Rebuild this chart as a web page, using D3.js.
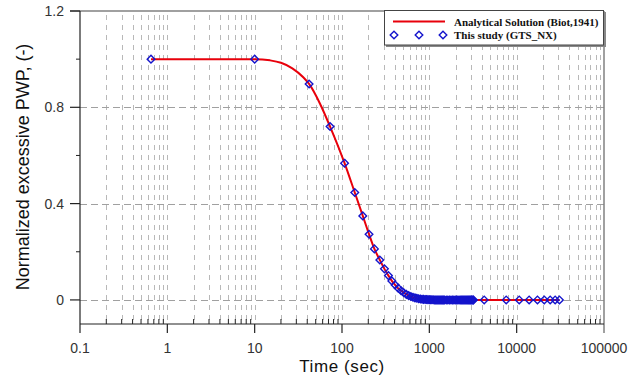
<!DOCTYPE html>
<html>
<head>
<meta charset="utf-8">
<script src="https://cdn.jsdelivr.net/npm/d3@7"></script>
<style>
body { margin: 0; background: #fff; }
svg { display: block; }
</style>
</head>
<body>
<div id="chart"></div>
<script>
// analytical solution (Biot, 1941)
var analyticTime = [0.65, 10, 15, 20, 27, 36, 42, 56, 73, 107, 140, 173, 204, 235, 271, 306, 340, 372, 406, 440, 510, 580, 650, 750, 900, 1100, 1500, 31000];
var analyticPwp = [1, 1, 0.995, 0.985, 0.962, 0.925, 0.897, 0.815, 0.72, 0.568, 0.446, 0.349, 0.273, 0.212, 0.166, 0.129, 0.101, 0.079, 0.062, 0.048, 0.03, 0.018, 0.011, 0.005, 0.002, 0.0005, 0, 0];

// this study (GTS_NX), blue diamonds
var studyTime = [0.65, 10, 42, 73, 107, 140, 173, 204, 235, 271, 306, 340, 372, 406, 440, 475, 510, 545, 580, 615, 650, 685, 720, 755, 790, 825, 860, 895, 930, 965, 1000, 1035, 1070, 1105, 1140, 1175, 1210, 1245, 1280, 1315, 1350, 1385, 1420, 1455, 1490, 1560, 1630, 1700, 1770, 1840, 1910, 1980, 2050, 2120, 2190, 2260, 2330, 2400, 2470, 2540, 2610, 2680, 2750, 2820, 2890, 2960, 3030, 3100, 3170, 3200, 4250, 7590, 10700, 13900, 17300, 20700, 24200, 27600, 30900];
var studyPwp = [1, 1, 0.897, 0.72, 0.568, 0.446, 0.349, 0.273, 0.212, 0.166, 0.129, 0.101, 0.079, 0.062, 0.049, 0.038, 0.03, 0.023, 0.018, 0.014, 0.011, 0.0085, 0.0066, 0.0052, 0.004, 0.0031, 0.0024, 0.0019, 0.0015, 0.0011, 0.0009, 0.0007, 0.0005, 0.0004, 0, 0, 0, 0, 0, 0, 0, 0, 0, 0, 0, 0, 0, 0, 0, 0, 0, 0, 0, 0, 0, 0, 0, 0, 0, 0, 0, 0, 0, 0, 0, 0, 0, 0, 0, 0, 0, 0, 0, 0, 0, 0, 0, 0, 0];

var xTicks = [0.1, 1, 10, 100, 1000, 10000, 100000];
var xTickLabels = ["0.1", "1", "10", "100", "1000", "10000", "100000"];
var yTicks = [0, 0.4, 0.8, 1.2];
var yMinorTicks = [0.2, 0.6, 1.0];

var width = 640, height = 378;
var plotLeft = 80, plotRight = 604, plotTop = 11, plotBottom = 324;

var svg = d3.select("#chart").append("svg").attr("width", width).attr("height", height);

var x = d3.scaleLog().domain([0.1, 100000]).range([plotLeft, plotRight]);
var y = d3.scaleLinear().domain([-0.1, 1.2]).range([plotBottom, plotTop]);

// positions 1..9 per decade for the grid
var gridX = [];
xTicks.slice(0, -1).forEach(function(d) {
	for (var k = 1; k <= 9; k++) gridX.push(d * k);
});
var minorX = gridX.filter(function(d, i) { return i % 9 != 0; });

// vertical grid
svg.append("g").selectAll("line").data(gridX.slice(1)).enter().append("line")
	.attr("x1", function(d) { return Math.round(x(d)) + 0.5; })
	.attr("x2", function(d) { return Math.round(x(d)) + 0.5; })
	.attr("y1", plotTop + 4).attr("y2", plotBottom)
	.attr("stroke", "#b8b8b8").attr("stroke-width", 1).attr("stroke-dasharray", "5,5");

// horizontal grid
svg.append("g").selectAll("line").data([0, 0.4, 0.8]).enter().append("line")
	.attr("x1", plotLeft).attr("x2", plotRight)
	.attr("y1", function(d) { return Math.round(y(d)) + 0.5; })
	.attr("y2", function(d) { return Math.round(y(d)) + 0.5; })
	.attr("stroke", "#a0a0a0").attr("stroke-width", 1).attr("stroke-dasharray", "7,4");

// frame: top / right in grey
svg.append("line").attr("x1", plotLeft - 10).attr("x2", plotRight).attr("y1", plotTop).attr("y2", plotTop)
	.attr("stroke", "#808080").attr("stroke-width", 1.5);
svg.append("line").attr("x1", plotRight).attr("x2", plotRight).attr("y1", plotTop).attr("y2", plotBottom + 9)
	.attr("stroke", "#808080").attr("stroke-width", 1.5);

// left / bottom axes
svg.append("line").attr("x1", plotLeft).attr("x2", plotLeft).attr("y1", plotTop).attr("y2", plotBottom + 9)
	.attr("stroke", "#222").attr("stroke-width", 1.2);
svg.append("line").attr("x1", plotLeft).attr("x2", plotRight).attr("y1", plotBottom).attr("y2", plotBottom)
	.attr("stroke", "#222").attr("stroke-width", 1.2);

// x ticks
svg.append("g").selectAll("line").data(xTicks.slice(1, -1)).enter().append("line")
	.attr("x1", function(d) { return x(d); }).attr("x2", function(d) { return x(d); })
	.attr("y1", plotBottom).attr("y2", plotBottom + 9)
	.attr("stroke", "#222").attr("stroke-width", 1.2);
svg.append("g").selectAll("line").data(minorX).enter().append("line")
	.attr("x1", function(d) { return x(d); }).attr("x2", function(d) { return x(d); })
	.attr("y1", plotBottom).attr("y2", plotBottom - 5)
	.attr("stroke", "#222").attr("stroke-width", 1);

svg.append("g").selectAll("text").data(xTicks).enter().append("text")
	.attr("x", function(d) { return x(d); })
	.attr("y", 353)
	.attr("text-anchor", "middle")
	.attr("font-family", "Liberation Sans, Arial, sans-serif")
	.attr("font-size", 14).attr("fill", "#333")
	.text(function(d, i) { return xTickLabels[i]; });

// y ticks
svg.append("g").selectAll("line").data(yTicks).enter().append("line")
	.attr("x1", plotLeft - 10).attr("x2", plotLeft)
	.attr("y1", function(d) { return y(d); }).attr("y2", function(d) { return y(d); })
	.attr("stroke", "#222").attr("stroke-width", 1.2);
svg.append("g").selectAll("line").data(yMinorTicks).enter().append("line")
	.attr("x1", plotLeft - 4).attr("x2", plotLeft)
	.attr("y1", function(d) { return y(d); }).attr("y2", function(d) { return y(d); })
	.attr("stroke", "#222").attr("stroke-width", 1);

svg.append("g").selectAll("text").data(yTicks).enter().append("text")
	.attr("x", 64)
	.attr("y", function(d) { return y(d); })
	.attr("dy", "0.35em")
	.attr("text-anchor", "end")
	.attr("font-family", "Liberation Sans, Arial, sans-serif")
	.attr("font-size", 14).attr("fill", "#333")
	.text(function(d) { return d == 0 ? "0" : d3.format(".1f")(d); });

// axis titles
svg.append("text").attr("x", 342).attr("y", 372)
	.attr("text-anchor", "middle")
	.attr("font-family", "Liberation Sans, Arial, sans-serif")
	.attr("font-size", 17).attr("fill", "#111")
	.attr("letter-spacing", 0.6)
	.text("Time (sec)");
svg.append("text")
	.attr("transform", "translate(29,167) rotate(-90)")
	.attr("text-anchor", "middle")
	.attr("font-family", "Liberation Sans, Arial, sans-serif")
	.attr("font-size", 18).attr("fill", "#111")
	.text("Normalized excessive PWP, (-)");

// analytical curve
var analytic = analyticTime.map(function(t, i) { return [t, analyticPwp[i]]; });
var line = d3.line()
	.x(function(d) { return x(d[0]); })
	.y(function(d) { return y(d[1]); })
	.curve(d3.curveMonotoneX);
svg.append("path").datum(analytic)
	.attr("d", line)
	.attr("fill", "none").attr("stroke", "#e8000b").attr("stroke-width", 2);

// diamonds
var study = studyTime.map(function(t, i) { return [t, studyPwp[i]]; });
var diamond = "M0,-3.8L3.8,0L0,3.8L-3.8,0Z";
svg.append("g").selectAll("path").data(study).enter().append("path")
	.attr("transform", function(d) { return "translate(" + x(d[0]) + "," + y(d[1]) + ")"; })
	.attr("d", diamond)
	.attr("fill", "none").attr("stroke", "#1414cc").attr("stroke-width", 1.4);

// legend
var lg = svg.append("g");
lg.append("rect").attr("x", 386).attr("y", 12).attr("width", 220).attr("height", 35).attr("fill", "#888");
lg.append("rect").attr("x", 384.5).attr("y", 10.5).attr("width", 219).attr("height", 34.5)
	.attr("fill", "#fff").attr("stroke", "#444").attr("stroke-width", 1);
lg.append("line").attr("x1", 393).attr("x2", 445).attr("y1", 21.5).attr("y2", 21.5)
	.attr("stroke", "#e8000b").attr("stroke-width", 2);
lg.selectAll(".ld").data([394, 419, 443]).enter().append("path")
	.attr("class", "ld")
	.attr("transform", function(d) { return "translate(" + d + ",35)"; })
	.attr("d", diamond)
	.attr("fill", "none").attr("stroke", "#1414cc").attr("stroke-width", 1.4);
lg.append("text").attr("x", 454).attr("y", 25.5)
	.attr("font-family", "Liberation Serif, Times New Roman, serif")
	.attr("font-weight", "bold").attr("font-size", 11).attr("fill", "#111")
	.text("Analytical Solution (Biot,1941)");
lg.append("text").attr("x", 454).attr("y", 39)
	.attr("font-family", "Liberation Serif, Times New Roman, serif")
	.attr("font-weight", "bold").attr("font-size", 11).attr("fill", "#111")
	.text("This study (GTS_NX)");
</script>
</body>
</html>
